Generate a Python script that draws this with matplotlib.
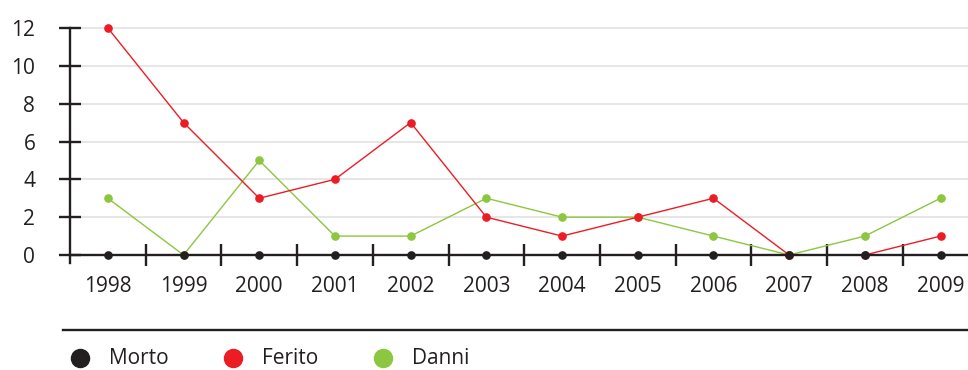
import matplotlib
matplotlib.use("Agg")
import matplotlib.pyplot as plt
from matplotlib.lines import Line2D

plt.rcParams['font.family'] = ['Open Sans', 'DejaVu Sans']

years = [1998, 1999, 2000, 2001, 2002, 2003, 2004, 2005, 2006, 2007, 2008, 2009]
morto = [0, 0, 0, 0, 0, 0, 0, 0, 0, 0, 0, 0]
ferito = [12, 7, 3, 4, 7, 2, 1, 2, 3, 0, 0, 1]
danni = [3, 0, 5, 1, 1, 3, 2, 2, 1, 0, 1, 3]

c_morto = '#231f20'
c_ferito = '#ec1c24'
c_danni = '#8dc63f'
ink = '#231f20'

W, H = 968, 370
fig = plt.figure(figsize=(W / 100, H / 100), dpi=100)

# axes box in pixels: y axis at x=70, zero line at y=255, top value at y=28
x0, y_zero, y_top = 70, 255, 28
px_per_unit = (y_zero - y_top) / 12
y_low = -8 / px_per_unit
y_high = 12 + 4 / px_per_unit
ax = fig.add_axes([x0 / W, (H - y_zero - 8) / H, (W - x0) / W, (y_zero + 12 - y_top) / H])

step = 75.7
ax.set_xlim(1997.5, 1997.5 + (W - x0) / step)
ax.set_ylim(y_low, y_high)

ax.plot(years, danni, '-o', color=c_danni, lw=1.0, ms=5.2, zorder=3, clip_on=False)
ax.plot(years, ferito, '-o', color=c_ferito, lw=1.0, ms=5.2, zorder=4, clip_on=False)
ax.plot(years, morto, 'o', color=c_morto, ms=5.2, zorder=6, clip_on=False)

for s in ['top', 'right']:
    ax.spines[s].set_visible(False)
ax.spines['bottom'].set_position(('data', 0))
ax.spines['bottom'].set_zorder(5)
ax.spines['left'].set_bounds(y_low, 12)
for s in ['left', 'bottom']:
    ax.spines[s].set_color(ink)
    ax.spines[s].set_linewidth(1.7)

ax.set_yticks(range(0, 13, 2))
ax.set_yticklabels([str(v) for v in range(0, 13, 2)])
ax.tick_params(axis='y', direction='inout', length=16, width=1.7, color=ink,
               labelsize=15, labelcolor=ink, pad=17)
ax.yaxis.grid(True, color='#e6e6e6', lw=1.4, zorder=0)

ax.set_xticks(years)
ax.set_xticklabels([str(y) for y in years])
ax.tick_params(axis='x', which='major', length=0, labelsize=15, labelcolor=ink, pad=15)
ax.set_xticks([y + 0.5 for y in years[:-1]], minor=True)
ax.tick_params(axis='x', which='minor', direction='inout', length=16, width=1.7, color=ink)
ax.set_axisbelow(True)

# separator rule above the key
fig.add_artist(Line2D([63 / W, 1], [1 - 330 / H, 1 - 330 / H], color=ink, lw=1.7))

legend_items = [('Morto', c_morto, 80), ('Ferito', c_ferito, 233), ('Danni', c_danni, 383)]
ly = 1 - 358 / H
for label, col, lx in legend_items:
    fig.add_artist(Line2D([lx / W], [ly], marker='o', ms=13, color=col, lw=0))
    fig.text((lx + 29) / W, ly, label, fontsize=15, color=ink, va='center', ha='left')

fig.savefig('out.png', dpi=100, facecolor='white')
